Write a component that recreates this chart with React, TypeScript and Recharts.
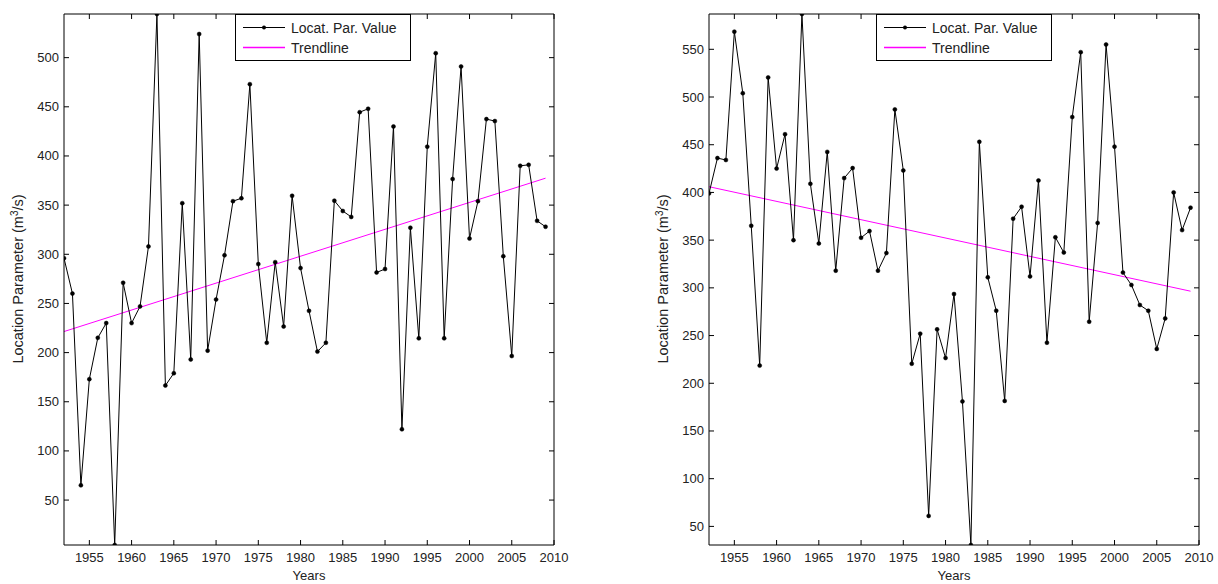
import React from 'react';
import { LineChart, Line, XAxis, YAxis } from 'recharts';

const years = [
  1952, 1953, 1954, 1955, 1956, 1957, 1958, 1959, 1960, 1961,
  1962, 1963, 1964, 1965, 1966, 1967, 1968, 1969, 1970, 1971,
  1972, 1973, 1974, 1975, 1976, 1977, 1978, 1979, 1980, 1981,
  1982, 1983, 1984, 1985, 1986, 1987, 1988, 1989, 1990, 1991,
  1992, 1993, 1994, 1995, 1996, 1997, 1998, 1999, 2000, 2001,
  2002, 2003, 2004, 2005, 2006, 2007, 2008, 2009,
];

const leftValues = [
  296, 260, 65, 173, 215, 230, 4.3, 271, 230, 247,
  308, 544.4, 166.5, 179, 352, 193, 524, 202, 254, 299,
  354, 357, 473, 290, 210, 292, 226.5, 359.5, 286, 242.5,
  201, 210, 354.5, 344, 338, 444.5, 448, 281.5, 285, 430,
  122, 327, 214.5, 409.5, 504.5, 214.5, 376.5, 491, 316, 354,
  437.5, 435.5, 298, 196.5, 390, 391, 334, 328,
];

const rightValues = [
  399, 436, 434, 568.5, 504, 365, 218.5, 520.5, 425, 461,
  350, 587, 409, 346.5, 442.5, 318, 415, 425.5, 352.5, 359.5,
  318, 336.5, 487, 423, 220.5, 252, 61, 256.5, 226.5, 293.5,
  181, 30.5, 453, 311, 276, 181.5, 372.5, 385, 312, 412.5,
  242.5, 353, 337, 479, 547, 264.5, 368, 555, 448, 316,
  303, 282, 276, 236, 268, 400, 360.5, 384,
];

// trendline endpoints (1952, 2009)
const leftTrend = [221.4, 377.4];
const rightTrend = [406, 296.5];

const xTicks = [1955, 1960, 1965, 1970, 1975, 1980, 1985, 1990, 1995, 2000, 2005, 2010];
const leftYTicks = [50, 100, 150, 200, 250, 300, 350, 400, 450, 500];
const rightYTicks = [50, 100, 150, 200, 250, 300, 350, 400, 450, 500, 550];
const leftYDomain = [4.3, 544.4];
const rightYDomain = [30.5, 587];
const xDomain = [1952, 2010];

const FONT = '"Liberation Sans", Arial, sans-serif';
const TEXT = '#222';

function buildRows(values: number[], trend: number[]) {
  return years.map((yr, i) => ({
    year: yr,
    value: values[i],
    trend: i === 0 ? trend[0] : i === years.length - 1 ? trend[1] : null,
  }));
}

// With tickSize=0 and tickMargin=0 the tick x/y sit exactly on the axis line.
const BottomTick = (p: any) => (
  <g>
    <line x1={p.x} x2={p.x} y1={p.y} y2={p.y - 5} stroke="#000" />
    <text x={p.x} y={p.y + 17} textAnchor="middle" fontSize={13} fontFamily={FONT} fill={TEXT}>
      {p.payload.value}
    </text>
  </g>
);
const TopTick = (p: any) => (
  <line x1={p.x} x2={p.x} y1={p.y} y2={p.y + 5} stroke="#000" />
);
const LeftTick = (p: any) => (
  <g>
    <line x1={p.x} x2={p.x + 5} y1={p.y} y2={p.y} stroke="#000" />
    <text x={p.x - 5} y={p.y + 4.5} textAnchor="end" fontSize={13} fontFamily={FONT} fill={TEXT}>
      {p.payload.value}
    </text>
  </g>
);
const RightTick = (p: any) => (
  <line x1={p.x} x2={p.x - 5} y1={p.y} y2={p.y} stroke="#000" />
);

function Panel({ values, trend, yDomain, yTicks, width }: any) {
  const rows = buildRows(values, trend);
  return (
    <LineChart
      width={width}
      height={584}
      data={rows}
      margin={{ top: 13, right: width - 555, bottom: 0, left: 0 }}
    >
      <XAxis
        dataKey="year"
        type="number"
        domain={xDomain}
        ticks={xTicks}
        interval={0}
        allowDataOverflow
        height={39}
        tickSize={0}
        tickMargin={0}
        tickLine={false}
        axisLine={{ stroke: '#000' }}
        tick={BottomTick}
      />
      <XAxis
        xAxisId="top"
        orientation="top"
        dataKey="year"
        type="number"
        domain={xDomain}
        ticks={xTicks}
        interval={0}
        allowDataOverflow
        height={1}
        tickSize={0}
        tickMargin={0}
        tickLine={false}
        axisLine={{ stroke: '#000' }}
        tick={TopTick}
      />
      <YAxis
        type="number"
        domain={yDomain}
        ticks={yTicks}
        interval={0}
        allowDataOverflow
        width={64}
        tickSize={0}
        tickMargin={0}
        tickLine={false}
        axisLine={{ stroke: '#000' }}
        tick={LeftTick}
      />
      <YAxis
        yAxisId="right"
        orientation="right"
        type="number"
        domain={yDomain}
        ticks={yTicks}
        interval={0}
        allowDataOverflow
        width={1}
        tickSize={0}
        tickMargin={0}
        tickLine={false}
        axisLine={{ stroke: '#000' }}
        tick={RightTick}
      />
      <Line
        dataKey="trend"
        stroke="#ff00ff"
        strokeWidth={1}
        dot={false}
        connectNulls
        isAnimationActive={false}
      />
      <Line
        dataKey="value"
        stroke="#000"
        strokeWidth={1}
        dot={{ r: 2, fill: '#000', stroke: '#000', strokeWidth: 0.5 }}
        isAnimationActive={false}
      />
    </LineChart>
  );
}

function Legend({ x }: { x: number }) {
  return (
    <g>
      <rect x={x + 0.5} y={14.5} width={175} height={46} fill="#fff" stroke="#000" strokeWidth={1} />
      <line x1={x + 8} x2={x + 50} y1={27.5} y2={27.5} stroke="#000" strokeWidth={1} />
      <circle cx={x + 29} cy={27.5} r={2} fill="#000" />
      <text x={x + 56} y={32.5} fontSize={14} fontFamily={FONT} fill={TEXT}>Locat. Par. Value</text>
      <line x1={x + 8} x2={x + 50} y1={47.5} y2={47.5} stroke="#ff00ff" strokeWidth={1.4} />
      <text x={x + 56} y={52.5} fontSize={14} fontFamily={FONT} fill={TEXT}>Trendline</text>
    </g>
  );
}

function Titles({ offset }: { offset: number }) {
  return (
    <g>
      <text x={offset + 309} y={580} textAnchor="middle" fontSize={13} fontFamily={FONT} fill={TEXT}>
        Years
      </text>
      <text
        transform={`translate(${offset + 23},279) rotate(-90)`}
        textAnchor="middle"
        fontSize={14.5}
        fontFamily={FONT}
        fill={TEXT}
      >
        Location Parameter (m<tspan fontSize={10} dy={-5}>3</tspan>
        <tspan dy={5}>/s)</tspan>
      </text>
    </g>
  );
}

export default function App() {
  return (
    <div style={{ position: 'absolute', left: 0, top: 0, width: 1218, height: 584, background: '#fff', overflow: 'hidden' }}>
      <div style={{ position: 'absolute', left: 0, top: 0 }}>
        <Panel values={leftValues} trend={leftTrend} yDomain={leftYDomain} yTicks={leftYTicks} width={600} />
      </div>
      <div style={{ position: 'absolute', left: 645, top: 0 }}>
        <Panel values={rightValues} trend={rightTrend} yDomain={rightYDomain} yTicks={rightYTicks} width={573} />
      </div>
      <svg width={1218} height={584} style={{ position: 'absolute', left: 0, top: 0, pointerEvents: 'none' }}>
        <Titles offset={0} />
        <Titles offset={645} />
        <Legend x={235} />
        <Legend x={876} />
      </svg>
    </div>
  );
}
